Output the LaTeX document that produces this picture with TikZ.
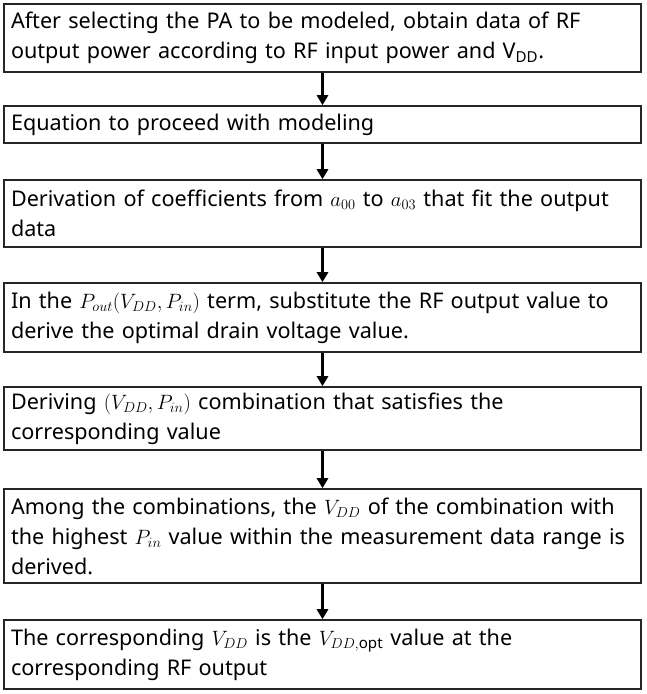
\documentclass[tikz,border=0pt]{standalone}
\usepackage{fontspec}
\setmainfont{Noto Sans}
\usetikzlibrary{arrows.meta}

\tikzset{
  stepbox/.style={draw=black!85, line width=1.6pt, minimum width=637pt,
    text width=623pt, inner xsep=7pt, inner ysep=2pt, align=left,
    font=\fontsize{21.6}{30}\selectfont},
  flowarrow/.style={line width=2.6pt, -{Triangle[width=11pt,length=10pt]}}
}

\begin{document}
\begin{tikzpicture}[x=1pt,y=-1pt]
  \useasboundingbox (0,0) rectangle (646,694);

  % Steps
  \node[stepbox, minimum height=68pt] (s1) at (322.5,38)
    {After selecting the PA to be modeled, obtain data of RF\\
     output power according to RF input power and V\textsubscript{DD}.};
  \node[stepbox, minimum height=37pt] (s2) at (322.5,124.5)
    {Equation to proceed with modeling};
  \node[stepbox, minimum height=67pt] (s3) at (322.5,213.5)
    {Derivation of coefficients from $a_{00}$ to $a_{03}$ that fit the output\\
     data};
  \node[stepbox, minimum height=69pt] (s4) at (322.5,317.5)
    {In the $P_{out}(V_{DD}, P_{in})$ term, substitute the RF output value to\\
     derive the optimal drain voltage value.};
  \node[stepbox, minimum height=63pt] (s5) at (322.5,418.5)
    {Deriving $(V_{DD}, P_{in})$ combination that satisfies the\\
     corresponding value};
  \node[stepbox, minimum height=94pt] (s6) at (322.5,536)
    {Among the combinations, the $V_{DD}$ of the combination with\\
     the highest $P_{in}$ value within the measurement data range is\\
     derived.};
  \node[stepbox, minimum height=69pt] (s7) at (322.5,654.5)
    {The corresponding $V_{DD}$ is the $V_{DD,\mathrm{opt}}$ value at the\\
     corresponding RF output};

  % Arrows
  \draw[flowarrow] (s1) -- (s2);
  \draw[flowarrow] (s2) -- (s3);
  \draw[flowarrow] (s3) -- (s4);
  \draw[flowarrow] (s4) -- (s5);
  \draw[flowarrow] (s5) -- (s6);
  \draw[flowarrow] (s6) -- (s7);
\end{tikzpicture}
\end{document}
